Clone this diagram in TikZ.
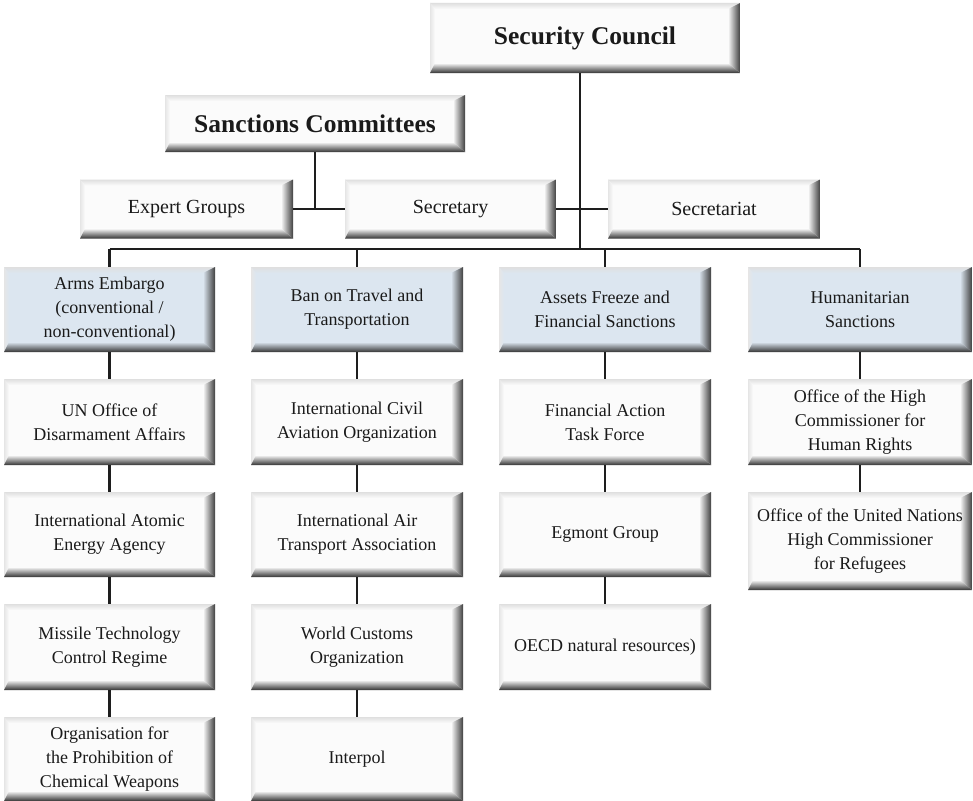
\documentclass[tikz,border=0pt]{standalone}
\usepackage{fontspec}
\setmainfont{Liberation Serif}
\definecolor{boxwhite}{HTML}{FBFBFB}
\definecolor{boxblue}{HTML}{DCE6F0}
\definecolor{linecol}{HTML}{1E1E1E}
\definecolor{txt}{HTML}{1A1A1A}
\tikzset{
  bevel/.style={path picture={
    \coordinate (ne) at (path picture bounding box.north east);
    \coordinate (sw) at (path picture bounding box.south west);
    \coordinate (se) at (path picture bounding box.south east);
    \coordinate (nw) at (path picture bounding box.north west);
    \fill[#1] (sw) rectangle (ne);
    \shade[top color=gray!25, bottom color=#1] (nw) -- (ne) -- ([xshift=-12pt,yshift=-6pt]ne) -- ([xshift=5pt,yshift=-6pt]nw) -- cycle;
    \shade[left color=gray!20, right color=#1] (nw) -- ([xshift=5pt,yshift=-6pt]nw) -- ([xshift=5pt,yshift=10pt]sw) -- (sw) -- cycle;
    \shade[left color=#1, right color=black!75] (ne) -- ([xshift=-12pt,yshift=-6pt]ne) -- ([xshift=-12pt,yshift=10pt]se) -- (se) -- cycle;
    \shade[top color=#1, bottom color=black!80] (sw) -- ([xshift=5pt,yshift=10pt]sw) -- ([xshift=-12pt,yshift=10pt]se) -- (se) -- cycle;
  }},
  basebox/.style={rectangle, inner sep=0pt, align=center, text=txt,
    font=\fontsize{18}{24}\selectfont},
  wbox/.style={basebox, bevel=boxwhite},
  bbox/.style={basebox, bevel=boxblue},
  mbox/.style={basebox, bevel=boxwhite, font=\fontsize{20}{24}\selectfont},
  tbox/.style={basebox, bevel=boxwhite, font=\fontsize{25.5}{30}\selectfont\bfseries},
  conn/.style={draw=linecol, line width=2.5pt},
}
\begin{document}
\begin{tikzpicture}[x=1pt, y=-1pt]
\useasboundingbox (0,0) rectangle (973,800);
\fill[white] (0,0) rectangle (973,800);

% top level
\node[tbox, minimum width=310pt, minimum height=70pt] (sc) at (585,38) {Security Council};
\node[tbox, minimum width=300pt, minimum height=57pt] (scm) at (315,123.5) {Sanctions Committees};
\node[mbox, minimum width=213pt, minimum height=59pt] (eg) at (186.5,209) {Expert Groups};
\node[mbox, minimum width=211pt, minimum height=59pt] (sec) at (450.5,209) {Secretary};
\node[mbox, minimum width=212pt, minimum height=59pt] (sect) at (714,209) {Secretariat};

\coordinate (hub) at (580,249);

% column 1
\node[bbox, minimum width=211pt, minimum height=85pt] (a1) at (109.5,309.5) {Arms Embargo\\(conventional /\\non-conventional)};
\node[wbox, minimum width=211pt, minimum height=86pt] (a2) at (109.5,422) {UN Office of\\Disarmament Affairs};
\node[wbox, minimum width=211pt, minimum height=85pt] (a3) at (109.5,534.5) {International Atomic\\Energy Agency};
\node[wbox, minimum width=211pt, minimum height=86pt] (a4) at (109.5,647) {Missile Technology\\Control Regime};
\node[wbox, minimum width=211pt, minimum height=84pt] (a5) at (109.5,759) {Organisation for\\the Prohibition of\\Chemical Weapons};

% column 2
\node[bbox, minimum width=212pt, minimum height=85pt] (b1) at (357,309.5) {Ban on Travel and\\Transportation};
\node[wbox, minimum width=212pt, minimum height=86pt] (b2) at (357,422) {International Civil\\Aviation Organization};
\node[wbox, minimum width=212pt, minimum height=85pt] (b3) at (357,534.5) {International Air\\Transport Association};
\node[wbox, minimum width=212pt, minimum height=86pt] (b4) at (357,647) {World Customs\\Organization};
\node[wbox, minimum width=212pt, minimum height=84pt] (b5) at (357,759) {Interpol};

% column 3
\node[bbox, minimum width=212pt, minimum height=85pt] (c1) at (605,309.5) {Assets Freeze and\\Financial Sanctions};
\node[wbox, minimum width=212pt, minimum height=86pt] (c2) at (605,422) {Financial Action\\Task Force};
\node[wbox, minimum width=212pt, minimum height=85pt] (c3) at (605,534.5) {Egmont Group};
\node[wbox, minimum width=212pt, minimum height=86pt] (c4) at (605,647) {OECD natural resources)};

% column 4
\node[bbox, minimum width=224pt, minimum height=85pt] (d1) at (860,309.5) {Humanitarian\\Sanctions};
\node[wbox, minimum width=224pt, minimum height=86pt] (d2) at (860,422) {Office of the High\\Commissioner for\\Human Rights};
\node[wbox, minimum width=224pt, minimum height=98pt] (d3) at (860,541) {Office of the United Nations\\High Commissioner\\for Refugees};

% connectors
\draw[conn] (hub |- sc.south) -- (hub);
\draw[conn] (scm.south) -- (scm.south |- eg.east);
\draw[conn] (eg.east) -- (sec.west);
\draw[conn] (sec.east) -- (sect.west);
\draw[conn] (a1.north |- hub) -- (d1.north |- hub);
\foreach \n in {a1,b1,c1,d1} { \draw[conn] (\n.north |- hub) -- (\n.north); }
\draw[conn] (a1) -- (a2); \draw[conn] (a2) -- (a3); \draw[conn] (a3) -- (a4); \draw[conn] (a4) -- (a5);
\draw[conn] (b1) -- (b2); \draw[conn] (b2) -- (b3); \draw[conn] (b3) -- (b4); \draw[conn] (b4) -- (b5);
\draw[conn] (c1) -- (c2); \draw[conn] (c2) -- (c3); \draw[conn] (c3) -- (c4);
\draw[conn] (d1) -- (d2); \draw[conn] (d2) -- (d3);
\end{tikzpicture}
\end{document}
